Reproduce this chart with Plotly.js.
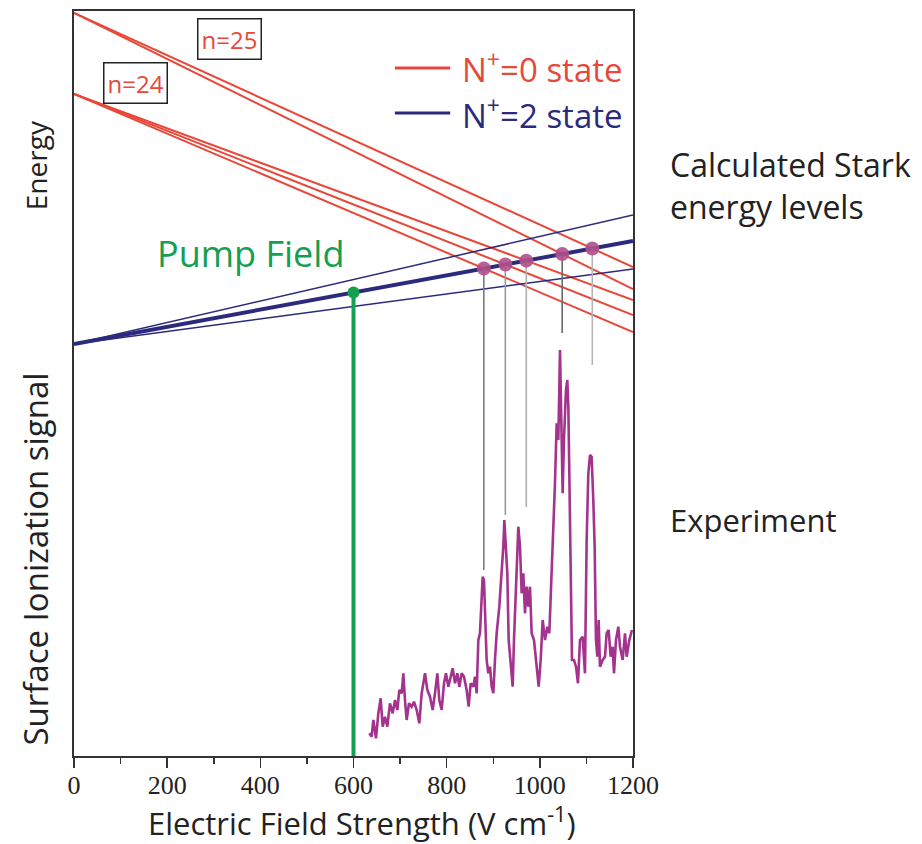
<!DOCTYPE html>
<html>
<head>
<meta charset="utf-8">
<script src="https://cdn.plot.ly/plotly-3.0.1.min.js"></script>
<style>html,body{margin:0;padding:0;background:#fff;}#chart{width:922px;height:844px;}</style>
</head>
<body>
<div id="chart"></div>
<script>
// ---- data (energy in arbitrary units, field in V/cm) ----
const fieldEnds = [0, 1200];
const n25Level1 = [743, 489];
const n25Level2 = [743, 467];
const n24Level1 = [662, 456];
const n24Level2 = [662, 441];
const n24Level3 = [662, 424];
const np2Upper = [412, 541];
const np2Main = [412, 515];
const np2Lower = [412, 487];
const pumpField = 600;
// bottom ends of the grey guide lines, in order of increasing crossing field
const dropBottoms = [186, 241, 249, 423, 391];
const dropColors = ['#7a7a7a', '#9a9a9a', '#b0b0b0', '#6a6a6a', '#b5b5b5'];

const expField = [634,639,642.6,648.3,653.3,658.3,662.6,667.6,672.6,678.3,684.1,689.1,694.1,698.4,703.4,707,710.5,714.1,719.1,724.8,729.9,735.6,741.3,746.3,753.5,758.5,764.2,769.9,774.9,780,784.2,789.2,794.3,798.5,803.6,808.6,812.9,817.9,822.9,827.2,832.2,837.2,842.9,847.2,851.5,857.2,860.8,864.4,868,871.5,877.3,880.1,883,885.8,889.4,893,896.6,900.2,903.7,907.3,913,918,921.6,923.8,927.3,930.2,933.1,937.4,941.7,944.5,948.8,953.8,957.4,961,964.6,968.1,971.7,975.3,978.9,982.4,987.5,993.2,997.5,1001.8,1006.1,1011.1,1016.1,1020.4,1025.4,1029,1032.5,1036.1,1039.7,1043.3,1046.8,1049,1051.8,1056.1,1059,1061.2,1063.3,1066.2,1069,1073.3,1077.6,1081.9,1086.2,1091.9,1096.9,1100.5,1104.1,1107.7,1111.2,1114.8,1117.7,1120.5,1123.4,1126.3,1129.1,1134.9,1139.9,1143.4,1147.7,1152,1156.3,1159.2,1163.5,1168.5,1172.1,1177.8,1182.8,1186.4,1192.1,1197.8];
const expSignal = [22.7,19.3,36,17.7,42.7,57.7,29.3,39.3,29.3,52.7,42.7,56,46,66,62.7,82.7,56,36,52.7,49.3,54.3,46,32.7,62.7,82.7,66,59.3,46,62.7,82.7,56,46,72.7,82.7,69.3,79.3,87.7,72.7,82.7,69.3,82.7,79.3,66,49.3,72.7,69.3,79.3,62.7,116,122.7,179.3,176,129.3,96,82.7,89.3,69.3,62.7,96,122.7,149.3,182.7,209.3,236,209.3,182.7,116,96,69.3,116,162.7,229.3,209.3,162.7,182.7,142.7,169.3,149.3,169.3,122.7,116,89.3,69.3,96,136,116,129.3,122.7,182.7,236,272.7,332.7,316,406,332.7,262.7,316,366,376,349.3,282.7,182.7,96,96,89.3,72.7,116,119.3,82.7,216,282.7,301,299.3,256,209.3,116,99.3,136,89.3,96,99.3,122.7,126,99.3,109.3,82.7,116,129.3,109.3,96,122.7,99.3,116,126];

// ---- colours ----
const RED = '#e8483a';
const BLUE = '#2b2a7c';
const GREEN = '#14a050';
const MAGENTA = '#a3338c';
const DOT = 'rgba(176,80,140,0.9)';
const SANS = '"Open Sans", "DejaVu Sans", sans-serif';

function lineAt(level, x) {
  return level[0] + (level[1] - level[0]) * (x - fieldEnds[0]) / (fieldEnds[1] - fieldEnds[0]);
}
function crossing(red, blue) {
  const dr = red[1] - red[0], db = blue[1] - blue[0];
  return fieldEnds[0] + (fieldEnds[1] - fieldEnds[0]) * (red[0] - blue[0]) / (db - dr);
}

const traces = [];
const redLevels = [n25Level1, n25Level2, n24Level1, n24Level2, n24Level3];
redLevels.forEach(l => traces.push({x: fieldEnds, y: l, mode: 'lines', line: {color: RED, width: 2}, showlegend: false, hoverinfo: 'skip'}));
[np2Upper, np2Lower].forEach(l => traces.push({x: fieldEnds, y: l, mode: 'lines', line: {color: BLUE, width: 1.5}, showlegend: false, hoverinfo: 'skip'}));
traces.push({x: fieldEnds, y: np2Main, mode: 'lines', line: {color: BLUE, width: 4}, showlegend: false, hoverinfo: 'skip'});

// crossings of N+=0 levels with main N+=2 level, sorted by field
const crossFields = redLevels.map(l => crossing(l, np2Main)).sort((a, b) => a - b);
const crossEnergies = crossFields.map(f => lineAt(np2Main, f));
crossFields.forEach((f, i) => traces.push({x: [f, f], y: [crossEnergies[i], dropBottoms[i]], mode: 'lines', line: {color: dropColors[i], width: 1.6}, showlegend: false, hoverinfo: 'skip'}));
traces.push({x: crossFields, y: crossEnergies, mode: 'markers', marker: {color: DOT, size: 14}, showlegend: false});

// experiment
traces.push({x: expField, y: expSignal, mode: 'lines', line: {color: MAGENTA, width: 2.6}, showlegend: false});

// pump field
const pumpE = lineAt(np2Main, pumpField);
traces.push({x: [pumpField, pumpField], y: [0, pumpE], mode: 'lines', line: {color: GREEN, width: 4}, showlegend: false});
traces.push({x: [pumpField], y: [pumpE], mode: 'markers', marker: {color: GREEN, size: 12}, showlegend: false});

const ann = (o) => Object.assign({showarrow: false}, o);
const layout = {
  width: 922, height: 844,
  margin: {l: 74, r: 289, t: 11, b: 88},
  paper_bgcolor: '#fff', plot_bgcolor: '#fff',
  showlegend: false,
  xaxis: {
    range: [0, 1200], showgrid: false, zeroline: false,
    showline: true, mirror: true, linecolor: '#333', linewidth: 2,
    ticks: 'outside', ticklen: 10, tickwidth: 1.5, tickcolor: '#333',
    ticklabelstandoff: -5,
    tickvals: [0, 200, 400, 600, 800, 1000, 1200],
    minor: {tickvals: [100, 300, 500, 700, 900, 1100], ticks: 'outside', ticklen: 6, tickwidth: 1.5, tickcolor: '#333', showgrid: false},
    tickfont: {family: '"Liberation Serif", "Times New Roman", serif', size: 26, color: '#222'}
  },
  yaxis: {
    range: [0, 745], showgrid: false, zeroline: false,
    showline: true, mirror: true, linecolor: '#333', linewidth: 2,
    ticks: '', showticklabels: false
  },
  shapes: [
    {type: 'line', xref: 'paper', yref: 'paper', x0: 0.574, x1: 0.673, y0: 0.9235, y1: 0.9235, line: {color: RED, width: 3}},
    {type: 'line', xref: 'paper', yref: 'paper', x0: 0.574, x1: 0.673, y0: 0.863, y1: 0.863, line: {color: BLUE, width: 3}}
  ],
  annotations: [
    ann({xref: 'paper', yref: 'paper', x: 0.69, y: 0.9235, xanchor: 'left', yanchor: 'middle', text: 'N<sup>+</sup>=0 state', font: {family: SANS, size: 33, color: RED}}),
    ann({xref: 'paper', yref: 'paper', x: 0.69, y: 0.863, xanchor: 'left', yanchor: 'middle', text: 'N<sup>+</sup>=2 state', font: {family: SANS, size: 33, color: BLUE}}),
    ann({x: 333, y: 717, xref: 'x', yref: 'y', text: 'n=25', font: {family: SANS, size: 24, color: RED}, bordercolor: '#222', borderwidth: 1.5, borderpad: 3, bgcolor: '#fff'}),
    ann({x: 131, y: 673, xref: 'x', yref: 'y', text: 'n=24', font: {family: SANS, size: 24, color: RED}, bordercolor: '#222', borderwidth: 1.5, borderpad: 3, bgcolor: '#fff'}),
    ann({x: 378, y: 503, xref: 'x', yref: 'y', text: 'Pump Field', font: {family: SANS, size: 36, color: GREEN}}),
    ann({xref: 'paper', yref: 'paper', x: 1.0626, y: 0.766, xanchor: 'left', yanchor: 'middle', align: 'left', text: 'Calculated Stark<br>energy levels', font: {family: SANS, size: 32, color: '#222'}}),
    ann({xref: 'paper', yref: 'paper', x: 1.0626, y: 0.317, xanchor: 'left', yanchor: 'middle', align: 'left', text: 'Experiment', font: {family: SANS, size: 31, color: '#222'}}),
    ann({xref: 'paper', yref: 'paper', x: -0.068, y: 0.793, xanchor: 'center', yanchor: 'middle', textangle: -90, text: 'Energy', font: {family: SANS, size: 28, color: '#222'}}),
    ann({xref: 'paper', yref: 'paper', x: -0.068, y: 0.265, xanchor: 'center', yanchor: 'middle', textangle: -90, text: 'Surface Ionization signal', font: {family: SANS, size: 33, color: '#222'}}),
    ann({xref: 'paper', yref: 'paper', x: 0.5145, y: -0.0875, xanchor: 'center', yanchor: 'middle', text: 'Electric Field Strength (V cm<sup>-1</sup>)', font: {family: SANS, size: 31, color: '#222'}})
  ]
};
Plotly.newPlot('chart', traces, layout, {displayModeBar: false, staticPlot: true});
</script>
</body>
</html>
